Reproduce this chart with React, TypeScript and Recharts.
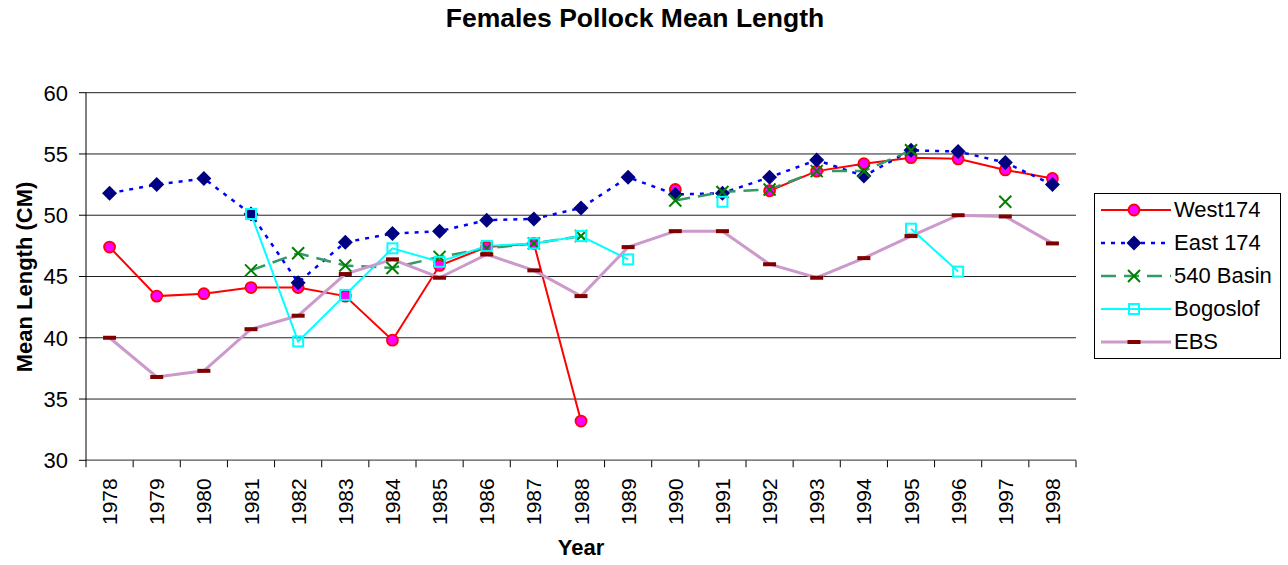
import { CartesianGrid, Legend, Line, LineChart, XAxis, YAxis } from "recharts";

// Female pollock mean length (cm) by survey area, 1978-1998.
const years = [
  1978, 1979, 1980, 1981, 1982, 1983, 1984, 1985, 1986, 1987, 1988, 1989, 1990,
  1991, 1992, 1993, 1994, 1995, 1996, 1997, 1998,
];
const west174 = [
  47.4, 43.4, 43.6, 44.1, 44.1, 43.4, 39.8, 45.9, 47.4, 47.7, 33.2, null, 52.1,
  null, 52.0, 53.6, 54.2, 54.7, 54.6, 53.7, 53.0,
];
const east174 = [
  51.8, 52.5, 53.0, 50.1, 44.5, 47.8, 48.5, 48.7, 49.6, 49.7, 50.6, 53.1, 51.7,
  51.8, 53.1, 54.5, 53.2, 55.3, 55.2, 54.3, 52.5,
];
const basin540 = [
  null, null, null, 45.5, 46.9, 45.9, 45.7, 46.6, 47.3, 47.7, 48.3, null, 51.2,
  51.9, 52.1, 53.6, 53.6, 55.3, null, 51.1, null,
];
const bogoslof = [
  null, null, null, 50.1, 39.7, 43.5, 47.3, 46.2, 47.5, 47.7, 48.3, 46.4, null,
  51.1, null, null, null, 48.9, 45.4, null, null,
];
const ebs = [
  40.0, 36.8, 37.3, 40.7, 41.8, 45.2, 46.4, 44.9, 46.8, 45.5, 43.4, 47.4, 48.7,
  48.7, 46.0, 44.9, 46.5, 48.3, 50.0, 49.9, 47.7,
];
const yTicks = [30, 35, 40, 45, 50, 55, 60];

const FONT = '"Liberation Sans", Arial, sans-serif';
const PLOT_W = 990;
const HALF_BAND = PLOT_W / years.length / 2;

const data = years.map((year, i) => ({
  year,
  west174: west174[i],
  east174: east174[i],
  basin540: basin540[i],
  bogoslof: bogoslof[i],
  ebs: ebs[i],
}));

// tick marks sit between the years, like the Excel original
const boundaries = [...years.map((y) => y - 0.5), years[years.length - 1] + 0.5];

// marker shapes
const Marker = ({ kind, cx, cy }: { kind: string; cx: number; cy: number }) => {
  switch (kind) {
    case "west":
      return <circle cx={cx} cy={cy} r={5.5} fill="#FF00FF" stroke="#FF0000" strokeWidth={1.8} />;
    case "east":
      return (
        <polygon
          points={`${cx},${cy - 7.5} ${cx + 7.5},${cy} ${cx},${cy + 7.5} ${cx - 7.5},${cy}`}
          fill="#000080"
        />
      );
    case "basin":
      return (
        <path
          d={`M${cx - 6},${cy - 6}L${cx + 6},${cy + 6}M${cx + 6},${cy - 6}L${cx - 6},${cy + 6}`}
          stroke="#008000"
          strokeWidth={2}
        />
      );
    case "bog":
      return <rect x={cx - 5} y={cy - 5} width={10} height={10} fill="none" stroke="#00FFFF" strokeWidth={2} />;
    default:
      return <rect x={cx - 6.5} y={cy - 2} width={13} height={4} fill="#800000" />;
  }
};

const dotFor = (kind: string) => (p: any) =>
  p.cx == null || p.cy == null || p.value == null ? (
    <g key={`${kind}-${p.index}`} />
  ) : (
    <g key={`${kind}-${p.index}`}>
      <Marker kind={kind} cx={p.cx} cy={p.cy} />
    </g>
  );

const series = [
  { key: "west174", name: "West174", kind: "west", stroke: "#FF0000", width: 2, dash: undefined },
  { key: "east174", name: "East 174", kind: "east", stroke: "#0000FF", width: 2.5, dash: "4 6" },
  { key: "basin540", name: "540 Basin", kind: "basin", stroke: "#339966", width: 2.5, dash: "15 8" },
  { key: "bogoslof", name: "Bogoslof", kind: "bog", stroke: "#00FFFF", width: 2, dash: undefined },
  { key: "ebs", name: "EBS", kind: "ebs", stroke: "#CC99CC", width: 3, dash: undefined },
];

function YearTick({ x, y, payload }: any) {
  const year = payload.value + 0.5;
  if (!years.includes(year)) return <g />;
  return (
    <text
      transform={`translate(${x + HALF_BAND},${y + 9}) rotate(-90)`}
      textAnchor="end"
      dominantBaseline="central"
      fontSize={21}
      fontFamily={FONT}
      fill="#000"
    >
      {year}
    </text>
  );
}

function LegendBox() {
  return (
    <div
      style={{
        border: "1px solid #000",
        background: "#fff",
        width: 185,
        height: 164,
        fontFamily: FONT,
        fontSize: 22,
        color: "#000",
      }}
    >
      {series.map((s) => (
        <div key={s.key} style={{ display: "flex", alignItems: "center", height: 32.8 }}>
          <svg width={70} height={20} style={{ marginLeft: 6, overflow: "visible" }}>
            <line x1={0} y1={10} x2={70} y2={10} stroke={s.stroke} strokeWidth={s.width} strokeDasharray={s.dash} />
            <Marker kind={s.kind} cx={33} cy={10} />
          </svg>
          <span style={{ marginLeft: 3, whiteSpace: "nowrap" }}>{s.name}</span>
        </div>
      ))}
    </div>
  );
}

export default function App() {
  return (
    <div style={{ position: "absolute", left: 0, top: 0, width: 1288, height: 565, background: "#fff" }}>
      <div
        style={{
          position: "absolute",
          left: 0,
          width: 1270,
          top: 3,
          textAlign: "center",
          fontFamily: FONT,
          fontWeight: "bold",
          fontSize: 26.5,
          lineHeight: "30px",
        }}
      >
        Females Pollock Mean Length
      </div>
      <div
        style={{
          position: "absolute",
          left: 25 - 150,
          top: 277 - 15,
          width: 300,
          height: 30,
          lineHeight: "30px",
          textAlign: "center",
          transform: "rotate(-90deg)",
          fontFamily: FONT,
          fontWeight: "bold",
          fontSize: 22,
        }}
      >
        Mean Length (CM)
      </div>
      <div
        style={{
          position: "absolute",
          left: 481,
          width: 200,
          top: 534,
          lineHeight: "28px",
          textAlign: "center",
          fontFamily: FONT,
          fontWeight: "bold",
          fontSize: 22,
        }}
      >
        Year
      </div>
      <LineChart
        width={1288}
        height={565}
        data={data}
        margin={{ top: 92.7, right: 212, bottom: 44.7, left: 0 }}
        style={{ position: "absolute", left: 0, top: 0 }}
      >
        <CartesianGrid vertical={false} stroke="#222" strokeWidth={1} />
        <XAxis
          dataKey="year"
          type="number"
          domain={[boundaries[0], boundaries[boundaries.length - 1]]}
          ticks={boundaries}
          interval={0}
          height={60}
          tickSize={7}
          tick={<YearTick />}
          axisLine={{ stroke: "#808080", strokeWidth: 1.5 }}
          tickLine={{ stroke: "#000" }}
        />
        <YAxis
          domain={[30, 60]}
          ticks={yTicks}
          interval={0}
          width={86}
          tickSize={7}
          tickMargin={11}
          tick={{ fontSize: 22, fill: "#000", fontFamily: FONT }}
          axisLine={{ stroke: "#000" }}
          tickLine={{ stroke: "#000" }}
        />
        <Legend
          layout="vertical"
          align="center"
          verticalAlign="middle"
          content={() => <LegendBox />}
          wrapperStyle={{ left: 1094, top: 193, width: 187, height: 166 }}
        />
        {series.map((s) => (
          <Line
            key={s.key}
            dataKey={s.key}
            name={s.name}
            stroke={s.stroke}
            strokeWidth={s.width}
            strokeDasharray={s.dash}
            dot={dotFor(s.kind)}
            activeDot={false}
            connectNulls={false}
            isAnimationActive={false}
          />
        ))}
      </LineChart>
    </div>
  );
}
